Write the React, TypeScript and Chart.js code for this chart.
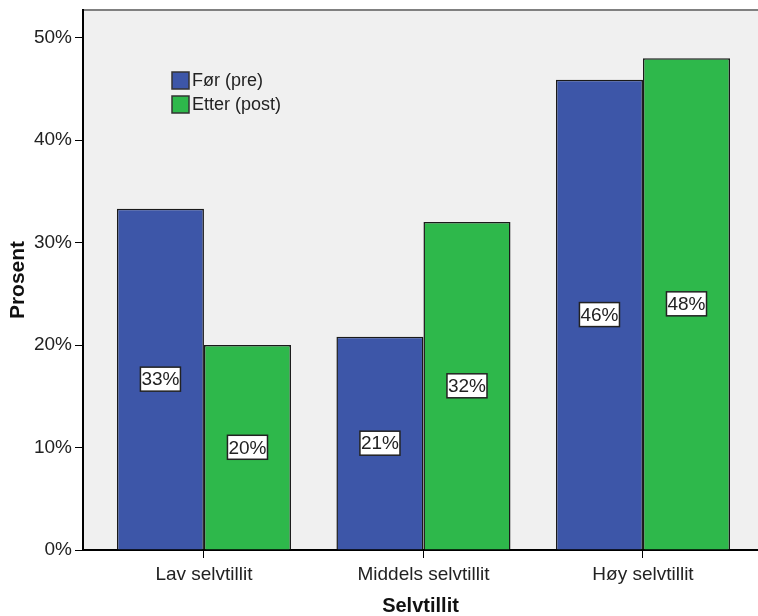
import React, { useEffect, useRef } from "react";
import { Chart, registerables } from "chart.js";

Chart.register(...registerables);

const categories = ["Lav selvtillit", "Middels selvtillit", "Høy selvtillit"];
const seriesNames = ["Før (pre)", "Etter (post)"];
const preValues = [33.3, 20.8, 45.9];
const postValues = [20.0, 32.0, 48.0];
const yTicks = [0, 10, 20, 30, 40, 50];
const colors = ["#3d56a8", "#2eb84b"];

const FONT = 'Arial, "Liberation Sans", sans-serif';

const framePlugin = {
  id: "frame",
  beforeDraw(chart: any) {
    const { ctx, chartArea } = chart;
    ctx.save();
    ctx.fillStyle = "#f0f0f0";
    ctx.fillRect(chartArea.left, chartArea.top, chartArea.right - chartArea.left, chartArea.bottom - chartArea.top);
    ctx.strokeStyle = "#808080";
    ctx.lineWidth = 2;
    ctx.beginPath();
    ctx.moveTo(chartArea.left, chartArea.top);
    ctx.lineTo(chartArea.right, chartArea.top);
    ctx.stroke();
    ctx.restore();
  },
};

const labelPlugin = {
  id: "barLabels",
  afterDatasetsDraw(chart: any) {
    const { ctx } = chart;
    ctx.save();
    ctx.font = `19px ${FONT}`;
    ctx.textAlign = "center";
    ctx.textBaseline = "middle";
    chart.data.datasets.forEach((ds: any, di: number) => {
      const meta = chart.getDatasetMeta(di);
      meta.data.forEach((el: any, i: number) => {
        const v = ds.data[i].y;
        const txt = Math.round(v) + "%";
        const cx = el.x;
        const cy = (el.y + el.base) / 2;
        const w = ctx.measureText(txt).width + 2;
        const h = 24;
        ctx.fillStyle = "#ffffff";
        ctx.fillRect(cx - w / 2, cy - h / 2, w, h);
        ctx.strokeStyle = "#222";
        ctx.lineWidth = 1.5;
        ctx.strokeRect(cx - w / 2, cy - h / 2, w, h);
        ctx.fillStyle = "#222";
        ctx.fillText(txt, cx, cy + 1);
      });
    });
    ctx.restore();
  },
};

const legendPlugin = {
  id: "innerLegend",
  afterDraw(chart: any) {
    const { ctx, chartArea } = chart;
    ctx.save();
    ctx.font = `18px ${FONT}`;
    ctx.textBaseline = "middle";
    ctx.textAlign = "left";
    chart.data.datasets.forEach((ds: any, i: number) => {
      const x = chartArea.left + 89;
      const y = chartArea.top + 62 + i * 24;
      ctx.fillStyle = ds.backgroundColor;
      ctx.fillRect(x, y, 17, 17);
      ctx.strokeStyle = "#333";
      ctx.lineWidth = 1.5;
      ctx.strokeRect(x, y, 17, 17);
      ctx.fillStyle = "#222";
      ctx.fillText(ds.label, x + 20, y + 9);
    });
    ctx.restore();
  },
};

export default function App() {
  const ref = useRef<HTMLCanvasElement>(null);
  useEffect(() => {
    if (!ref.current) return;
    const mk = (vals: number[]) => vals.map((v, i) => ({ x: i, y: v }));
    const chart = new Chart(ref.current, {
      type: "bar",
      data: {
        datasets: [
          { label: seriesNames[0], data: mk(preValues), backgroundColor: colors[0], borderColor: "#1a1a1a", borderWidth: 1.5, categoryPercentage: 0.793, barPercentage: 1 },
          { label: seriesNames[1], data: mk(postValues), backgroundColor: colors[1], borderColor: "#1a1a1a", borderWidth: 1.5, categoryPercentage: 0.793, barPercentage: 1 },
        ] as any,
      },
      options: {
        animation: false,
        responsive: false,
        layout: { padding: { top: 10, left: 0, right: 0, bottom: 0 } },
        plugins: { legend: { display: false }, tooltip: { enabled: false } },
        scales: {
          x: {
            type: "linear",
            offset: false,
            min: -0.551,
            max: 2.524,
            afterBuildTicks: (s: any) => {
              s.ticks = categories.map((_, i) => ({ value: i }));
            },
            afterFit: (s: any) => {
              s.height = 66;
              s.paddingLeft = 0;
              s.paddingRight = 0;
            },
            ticks: {
              includeBounds: false,
              autoSkip: false,
              maxRotation: 0,
              color: "#222",
              padding: 5,
              font: { family: FONT, size: 19 },
              callback: (v: any) => categories[v as number] ?? "",
            },
            grid: { offset: false, drawOnChartArea: false, tickLength: 8, color: "#000", tickColor: "#000" },
            border: { color: "#000", width: 2 },
            title: { display: true, text: "Selvtillit", color: "#111", font: { family: FONT, size: 20, weight: "bold", lineHeight: 1 }, padding: { top: 0, bottom: 0 } },
          },
          y: {
            min: 0,
            max: 52.7,
            afterBuildTicks: (s: any) => {
              s.ticks = yTicks.map((v) => ({ value: v }));
            },
            afterFit: (s: any) => {
              s.width = 83;
              s.paddingTop = 0;
              s.paddingBottom = 0;
            },
            ticks: {
              includeBounds: false,
              color: "#222",
              padding: 3,
              font: { family: FONT, size: 19 },
              callback: (v: any) => v + "%",
            },
            grid: { drawOnChartArea: false, tickLength: 8, color: "#000", tickColor: "#000" },
            border: { color: "#000", width: 2 },
            title: { display: true, text: "Prosent", color: "#111", font: { family: FONT, size: 21, weight: "bold", lineHeight: 1 }, padding: { top: 8, bottom: 0 } },
          },
        },
      } as any,
      plugins: [framePlugin, labelPlugin, legendPlugin],
    });
    return () => chart.destroy();
  }, []);
  return (
    <div style={{ position: "absolute", left: 0, top: 0, width: 758, height: 616, background: "#fff" }}>
      <canvas ref={ref} width={758} height={616} style={{ width: 758, height: 616, display: "block" }} />
    </div>
  );
}
